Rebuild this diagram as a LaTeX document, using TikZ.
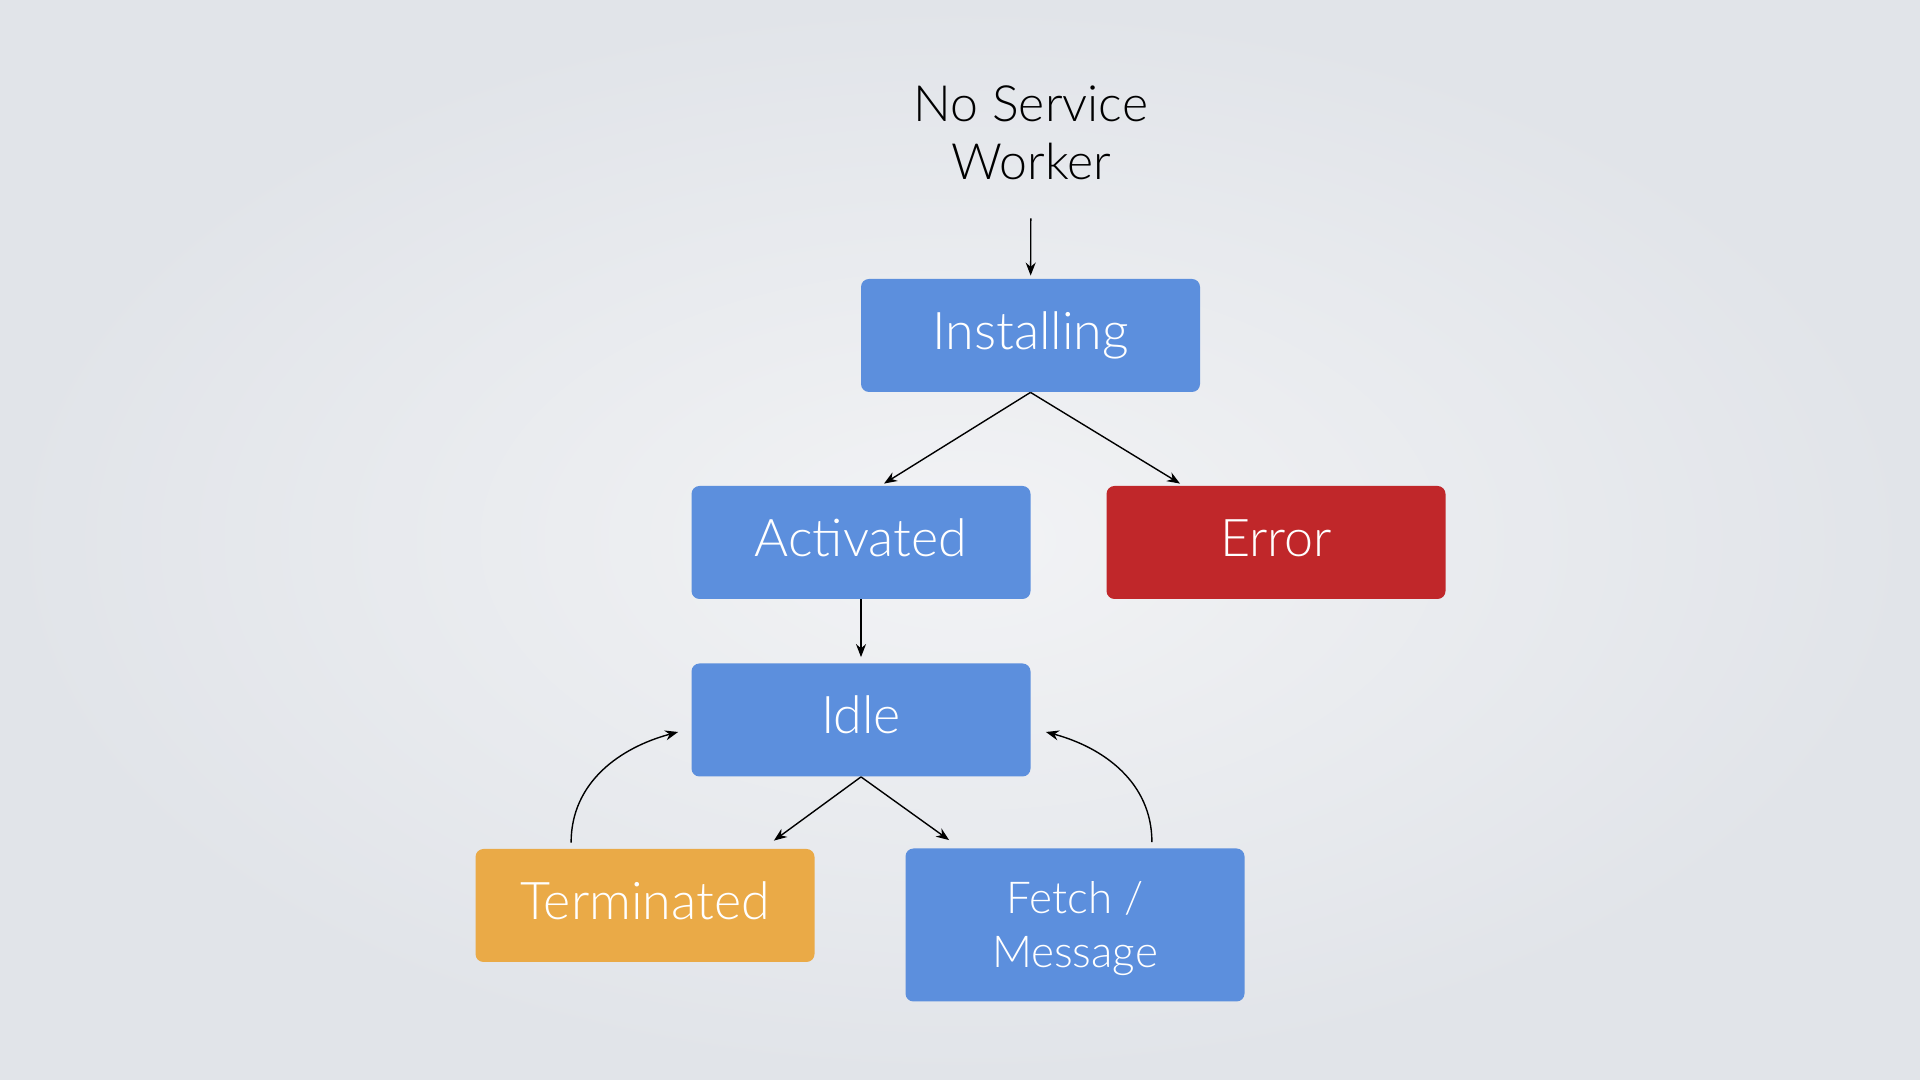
\documentclass[tikz,border=0pt]{standalone}
\usepackage{fontspec}
\setmainfont{Lato}[UprightFont=* Light]
\usetikzlibrary{arrows.meta,calc}
\definecolor{bgin}{HTML}{F2F3F5}
\definecolor{bgout}{HTML}{E1E4E9}
\definecolor{stblue}{HTML}{5C8FDD}
\definecolor{stred}{HTML}{C0272A}
\definecolor{storange}{HTML}{EAAA47}

\begin{document}
\begin{tikzpicture}[x=0.5pt,y=0.5pt,
      state/.style={rounded corners=4pt, minimum width=169.5pt, minimum height=56.5pt,
        inner sep=0pt, text=white, text height=19pt, text depth=5pt,
        font=\fontsize{26}{30}\selectfont},
      arr/.style={-{Stealth[length=6.5pt,width=5pt]}, line width=0.7pt}]
      \shade[inner color=bgin, outer color=bgout] (0,0) rectangle (1920,1080);
      \node[align=center, inner sep=0pt, font=\fontsize{25}{29}\selectfont] (nosw) at (1031,947) {No Service\\Worker};
      \node[state, fill=stblue] (inst) at (1030.5,744.5) {Installing};
      \node[state, fill=stblue] (act) at (861,537.5) {Activated};
      \node[state, fill=stred] (err) at (1276,537.5) {Error};
      \node[state, fill=stblue] (idle) at (861,360) {Idle};
      \node[state, fill=storange] (term) at (645,174.5) {Terminated};
      \node[rounded corners=4pt, minimum width=169.5pt, minimum height=76.5pt, inner sep=0pt,
        text=white, fill=stblue, align=center, text depth=1pt,
        font=\fontsize{22}{27}\selectfont] (fetch) at (1075,155) {Fetch /\\Message};
      \draw[arr, shorten <=19pt, shorten >=1.5pt] (nosw) -- (inst);
      \draw[arr] (inst.south) -- ($(act.north)+(23,2)$);
      \draw[arr] (inst.south) -- ($(err.north)+(-96,2)$);
      \draw[arr, shorten >=3pt] (act) -- (idle);
      \draw[arr] (idle.south) -- ($(term.north east)+(-41,8)$);
      \draw[arr] (idle.south) -- ($(fetch.north west)+(44,8)$);
      \draw[arr] ($(term.north west)+(96,6)$) to[out=90, in=195] ($(idle.west)+(-13,-12)$);
      \draw[arr] ($(fetch.north east)+(-93,6)$) to[out=90, in=-15] ($(idle.east)+(15,-12)$);
    \end{tikzpicture}
\end{document}
